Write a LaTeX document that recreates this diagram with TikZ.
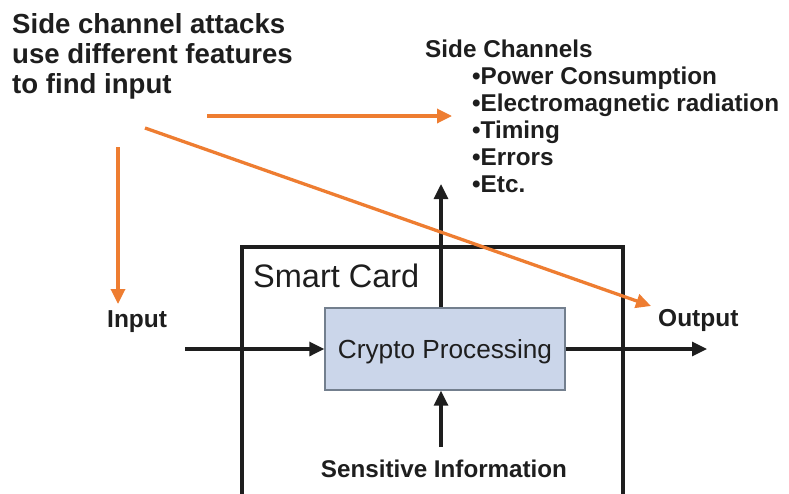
\documentclass[tikz,border=0pt]{standalone}
\usepackage{fontspec}
\setmainfont{Liberation Sans}
\usetikzlibrary{arrows.meta}
\definecolor{ink}{HTML}{1E1E1E}
\definecolor{attack}{HTML}{EE7D31}
\definecolor{cryptofill}{HTML}{CBD6EA}
\definecolor{cryptoedge}{HTML}{737F8E}
\tikzset{
  caption/.style={anchor=base west, inner sep=0pt, text=ink, font=\fontsize{27.6}{30}\selectfont\bfseries},
  chan/.style={anchor=base west, inner sep=0pt, text=ink, font=\fontsize{24.3}{27}\selectfont\bfseries},
  io/.style={anchor=base west, inner sep=0pt, text=ink, font=\fontsize{24.5}{27}\selectfont\bfseries},
  flow/.style={draw=ink, line width=3.2pt, -{Triangle[length=15pt,width=14pt]}},
  attackarrow/.style={draw=attack, line width=3.3pt, -{Triangle[length=15pt,width=14pt]}},
  cardbox/.style={draw=ink, line width=3.1pt},
}
\begin{document}
\begin{tikzpicture}[x=1pt,y=-1pt]
\useasboundingbox (0,0) rectangle (789,493);
\clip (0,0) rectangle (789,493);

% attacker caption
\node[caption] (cap1) at (12,33) {Side channel attacks};
\node[caption] (cap2) at (12,63) {use different features};
\node[caption] (cap3) at (12,93) {to find input};

% list of side channels
\node[chan] (sc)     at (425,57)  {Side Channels};
\node[chan] (power)  at (472,84)  {•Power Consumption};
\node[chan] (em)     at (472,111) {•Electromagnetic radiation};
\node[chan] (timing) at (472,138) {•Timing};
\node[chan] (errors) at (472,165) {•Errors};
\node[chan] (etc)    at (472,192) {•Etc.};

% smart card enclosure (its lower edge lies outside the frame)
\coordinate (cardNW) at (242,247);
\coordinate (cardSE) at (623,520);
\draw[cardbox] (cardNW) rectangle (cardSE);
\node[anchor=base west, inner sep=0pt, text=ink, font=\fontsize{32.5}{36}\selectfont] (card) at (253,287) {Smart Card};

% processing unit
\node[draw=cryptoedge, line width=1.4pt, fill=cryptofill, minimum width=240pt, minimum height=82pt,
      text height=18.5pt, text depth=0pt, inner sep=0pt, text=ink, font=\fontsize{26.2}{30}\selectfont]
      (crypto) at (445,349) {Crypto Processing};

% external labels
\node[io] (input)  at (107,327) {Input};
\node[io] (output) at (658,326) {Output};
\node[anchor=base, inner sep=0pt, text=ink, font=\fontsize{24.2}{28}\selectfont\bfseries] (sens) at (444,477) {Sensitive Information};

% data flow
\coordinate (inStart) at (185,349);
\coordinate (outEnd) at (707,349);
\coordinate (leakTop) at (441,184);
\coordinate (sensTop) at (441,447);
\draw[flow] (inStart) -- (crypto.west |- inStart);
\draw[flow] (crypto.east |- outEnd) -- (outEnd);
\draw[flow] (crypto.north -| leakTop) -- (leakTop);
\draw[flow] (sensTop) -- (crypto.south -| sensTop);

% attacker observations
\coordinate (a1s) at (207,116);
\coordinate (a1e) at (452,116);
\coordinate (a2s) at (145,128);
\coordinate (a2e) at (651,306);
\coordinate (a3s) at (118,147);
\coordinate (a3e) at (118,304);
\draw[attackarrow] (a1s) -- (a1e);
\draw[attackarrow] (a2s) -- (a2e);
\draw[attackarrow] (a3s) -- (a3e);
\end{tikzpicture}
\end{document}
